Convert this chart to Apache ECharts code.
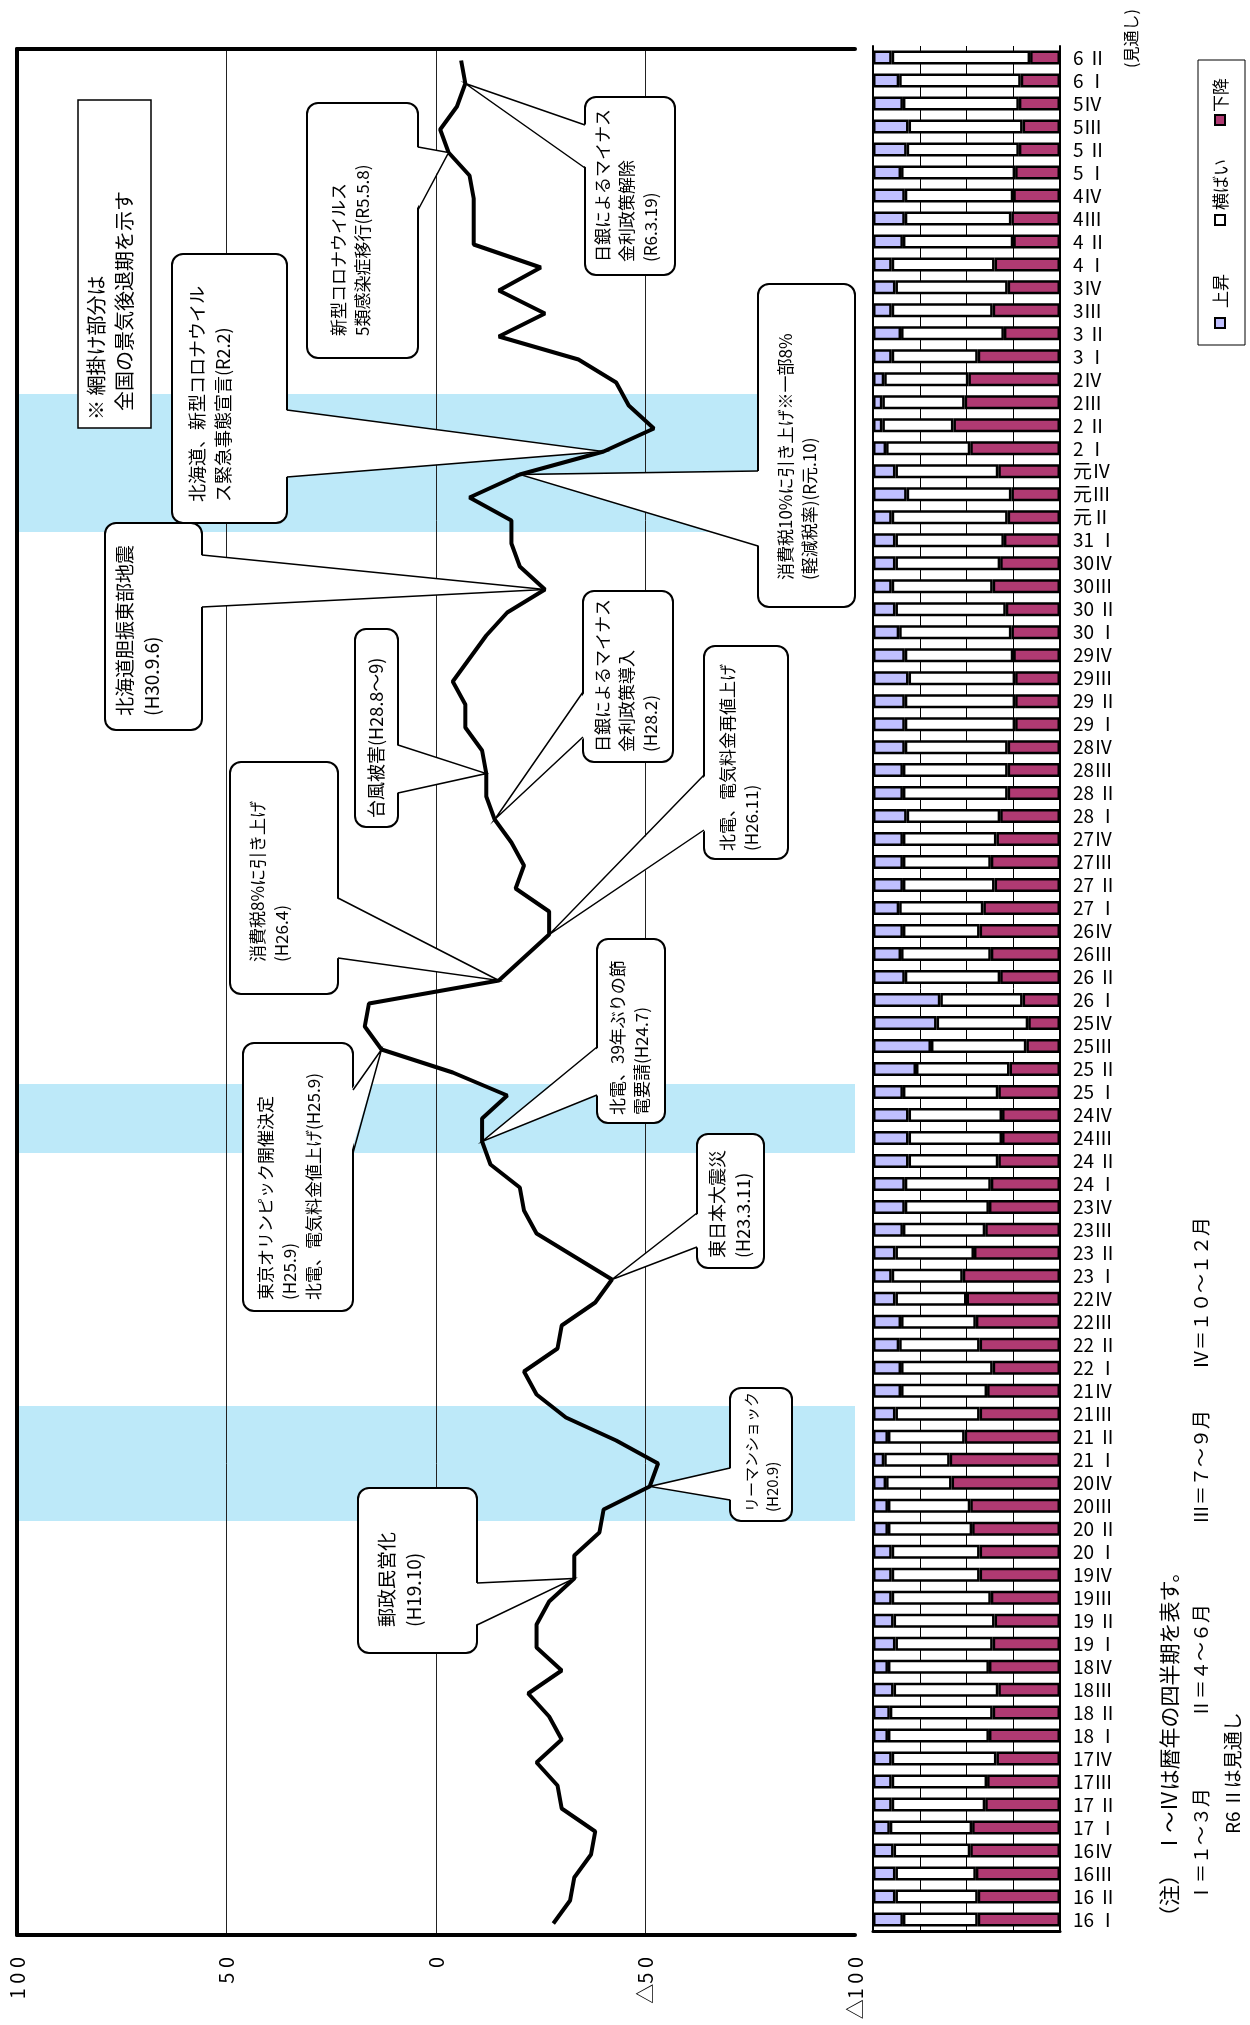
<!DOCTYPE html>
<html>
<head>
<meta charset="utf-8">
<script src="https://cdn.jsdelivr.net/npm/echarts@6/dist/echarts.min.js"></script>
<style>
  html, body { margin: 0; padding: 0; background: #fff; }
  #chart { width: 1250px; height: 2025px; }
</style>
</head>
<body>
<div id="chart"></div>
<script>
// 四半期（平成16年Ⅰ期 〜 令和6年Ⅱ期）
var quarters = [
  '16 Ⅰ','16 Ⅱ','16Ⅲ','16Ⅳ','17 Ⅰ','17 Ⅱ','17Ⅲ','17Ⅳ','18 Ⅰ','18 Ⅱ','18Ⅲ','18Ⅳ',
  '19 Ⅰ','19 Ⅱ','19Ⅲ','19Ⅳ','20 Ⅰ','20 Ⅱ','20Ⅲ','20Ⅳ','21 Ⅰ','21 Ⅱ','21Ⅲ','21Ⅳ',
  '22 Ⅰ','22 Ⅱ','22Ⅲ','22Ⅳ','23 Ⅰ','23 Ⅱ','23Ⅲ','23Ⅳ','24 Ⅰ','24 Ⅱ','24Ⅲ','24Ⅳ',
  '25 Ⅰ','25 Ⅱ','25Ⅲ','25Ⅳ','26 Ⅰ','26 Ⅱ','26Ⅲ','26Ⅳ','27 Ⅰ','27 Ⅱ','27Ⅲ','27Ⅳ',
  '28 Ⅰ','28 Ⅱ','28Ⅲ','28Ⅳ','29 Ⅰ','29 Ⅱ','29Ⅲ','29Ⅳ','30 Ⅰ','30 Ⅱ','30Ⅲ','30Ⅳ',
  '31 Ⅰ','元Ⅱ','元Ⅲ','元Ⅳ','2 Ⅰ','2 Ⅱ','2Ⅲ','2Ⅳ','3 Ⅰ','3 Ⅱ','3Ⅲ','3Ⅳ',
  '4 Ⅰ','4 Ⅱ','4Ⅲ','4Ⅳ','5 Ⅰ','5 Ⅱ','5Ⅲ','5Ⅳ','6 Ⅰ','6 Ⅱ'
];

// 構成比（%）
var upShare = [
  16,12,12,11, 9,10,10,10, 8, 9,11, 8,
  12,11,10,10,10, 8, 8, 7, 6, 8,12,15,
  15,14,15,12,10,12,16,17,17,19,19,19,
  16,23,31,34,36,17,15,16,14,16,16,16,
  18,16,16,17,17,17,19,17,14,12,10,12,
  12,10,18,12, 7, 5, 5, 6,10,15,10,12,
  10,16,17,17,15,18,19,16,14,10
];
var flatShare = [
  40,44,43,41,44,50,51,56,54,55,56,54,
  52,54,53,47,47,45,44,35,35,41,45,46,
  49,43,40,38,38,42,44,45,46,48,50,50,
  51,50,51,49,44,51,48,41,45,49,47,50,
  50,56,56,55,59,59,57,58,60,59,54,56,
  58,62,56,55,45,38,44,45,46,55,54,60,
  55,59,57,58,61,60,61,62,65,74
];
var downShare = [
  44,44,45,48,47,40,39,34,38,36,33,38,
  36,35,37,43,43,47,48,58,59,51,43,39,
  36,43,45,50,52,46,40,38,37,33,31,31,
  33,27,18,17,20,32,37,43,41,35,37,34,
  32,28,28,28,24,24,24,25,26,29,36,32,
  30,28,26,33,48,57,51,49,44,30,36,28,
  35,25,26,25,24,22,20,22,21,16
];

// 景気動向DI
var diValues = [
  -28,-32,-33,-37,-38,-30,-29,-24,-30,-27,
  -22,-30,-24,-24,-27,-33,-33,-39,-40,-51,
  -53,-43,-31,-24,-21,-29,-30,-38,-42,-33,
  -24,-21,-20,-13,-11,-11,-17,-4,13,17,
  16,-15,-21,-27,-27,-19,-21,-18,-14,-12,
  -12,-11,-7,-7,-4,-8,-12,-17,-26,-20,
  -18,-18,-8,-20,-40,-52,-46,-43,-34,-15,
  -26,-15,-25,-9,-9,-9,-8,-3,-1,-5,
  -7,-6
];

// 全国の景気後退期（網掛け）
var recessions = [['20Ⅲ', '21Ⅲ'], ['24Ⅲ', '25 Ⅰ'], ['元Ⅱ', '2Ⅲ']];

var valueLabels = { '100': '1 0 0', '50': '5 0', '0': '0', '-50': '△5 0', '-100': '△1 0 0' };

// 吹き出し（配置はピクセル、指し示す点は四半期で指定）
var callouts = [
  { box: [172, 254, 287, 523], lines: ['北海道、新型コロナウイル', 'ス緊急事態宣言(R2.2)'], tx: 210, ty: 502, fs: 18, base: [[287, 410], [287, 477]], at: '2 Ⅰ' },
  { box: [105, 523, 202, 730], lines: ['北海道胆振東部地震', '(H30.9.6)'], tx: 138, ty: 716, fs: 19, base: [[202, 555], [202, 607]], at: '30Ⅲ' },
  { box: [307, 103, 418, 358], lines: ['新型コロナウイルス', '5類感染症移行(R5.5.8)'], tx: 351, ty: 336, fs: 17, base: [[418, 147], [418, 210]], at: '5 Ⅱ' },
  { box: [585, 97, 675, 275], lines: ['日銀によるマイナス', '金利政策解除', '(R6.3.19)'], tx: 627, ty: 262, fs: 17, base: [[585, 125], [585, 168]], at: '6 Ⅰ' },
  { box: [758, 284, 855, 607], lines: ['消費税10%に引き上げ※一部8%', '(軽減税率)(R元.10)'], tx: 798, ty: 580, fs: 17, base: [[758, 471], [758, 546]], at: '元Ⅳ' },
  { box: [355, 629, 398, 827], lines: ['台風被害(H28.8～9)'], tx: 376, ty: 818, fs: 18, base: [[398, 745], [398, 793]], at: '28Ⅲ' },
  { box: [583, 591, 673, 762], lines: ['日銀によるマイナス', '金利政策導入', '(H28.2)'], tx: 627, ty: 752, fs: 17, base: [[583, 692], [583, 737]], at: '28 Ⅰ' },
  { box: [704, 646, 788, 859], lines: ['北電、電気料金再値上げ', '(H26.11)'], tx: 740, ty: 851, fs: 17, base: [[704, 775], [704, 830]], at: '26Ⅳ' },
  { box: [230, 762, 338, 994], lines: ['消費税8%に引き上げ', '(H26.4)'], tx: 270, ty: 962, fs: 17, base: [[338, 898], [338, 958]], at: '26 Ⅱ' },
  { box: [243, 1043, 353, 1311], lines: ['東京オリンピック開催決定', '(H25.9)', '北電、電気料金値上げ(H25.9)'], tx: 290, ty: 1300, fs: 17, base: [[353, 1090], [353, 1153]], at: '25Ⅲ' },
  { box: [597, 939, 665, 1123], lines: ['北電、39年ぶりの節', '電要請(H24.7)'], tx: 630, ty: 1115, fs: 17, base: [[597, 1047], [597, 1095]], at: '24Ⅲ' },
  { box: [697, 1134, 764, 1268], lines: ['東日本大震災', '(H23.3.11)'], tx: 730, ty: 1258, fs: 18, base: [[697, 1213], [697, 1247]], at: '23 Ⅰ' },
  { box: [730, 1388, 792, 1521], lines: ['リーマンショック', '(H20.9)'], tx: 762, ty: 1512, fs: 15, base: [[730, 1468], [730, 1500]], at: '20Ⅳ' },
  { box: [358, 1488, 477, 1653], lines: ['郵政民営化', '(H19.10)'], tx: 400, ty: 1627, fs: 19, base: [[477, 1583], [477, 1625]], at: '19Ⅳ' }
];

var FONT = '"Noto Sans CJK JP", "Noto Sans CJK SC", sans-serif';
var UP_COLOR = '#c0c0ff';
var FLAT_COLOR = '#ffffff';
var DOWN_COLOR = '#b03a72';
var BAND_COLOR = '#bde9f9';

var chart = echarts.init(document.getElementById('chart'));

function qIndex(label) {
  return quarters.indexOf(label);
}

var linePoints = diValues.map(function (v, i) { return [v, i]; });
var bandData = recessions.map(function (r) {
  return [{ yAxis: qIndex(r[0]) - 0.5 }, { yAxis: qIndex(r[1]) + 0.5 }];
});

var barStyle = function (color) {
  return { color: color, borderColor: '#000', borderWidth: 2.5 };
};

var option = {
  animation: false,
  backgroundColor: '#fff',
  grid: [
    { left: 17, right: 395, top: 49, bottom: 90, outerBoundsMode: 'none' },
    { left: 873, right: 190, top: 46, bottom: 94, outerBoundsMode: 'none' }
  ],
  xAxis: [
    {
      gridIndex: 0, type: 'value', min: -100, max: 100, interval: 50, inverse: true, z: 3,
      axisLine: { show: true, onZero: false, lineStyle: { color: '#000', width: 4 } },
      axisTick: { show: false },
      axisLabel: {
        rotate: 90, margin: 22, fontSize: 20, color: '#000', fontFamily: FONT,
        formatter: function (v) { return valueLabels[String(v)]; }
      },
      splitLine: { show: true, showMinLine: false, showMaxLine: false, lineStyle: { color: '#222', width: 1 } }
    },
    {
      gridIndex: 0, type: 'value', min: -100, max: 100, inverse: true, position: 'top', z: 3,
      axisLine: { show: true, onZero: false, lineStyle: { color: '#000', width: 4 } },
      axisTick: { show: false }, axisLabel: { show: false }, splitLine: { show: false }
    },
    {
      gridIndex: 1, type: 'value', min: 0, max: 100, interval: 25, z: 0,
      axisLine: { show: true, onZero: false, lineStyle: { color: '#000', width: 3 } },
      axisTick: { show: false }, axisLabel: { show: false },
      splitLine: { show: true, showMinLine: false, showMaxLine: false, lineStyle: { color: '#000', width: 1 } }
    }
  ],
  yAxis: [
    {
      gridIndex: 0, type: 'value', min: -0.5, max: 81.5, position: 'left', z: 3,
      axisLine: { show: true, onZero: false, lineStyle: { color: '#000', width: 4 } },
      axisTick: { show: false }, axisLabel: { show: false }, splitLine: { show: false }
    },
    {
      gridIndex: 1, type: 'category', data: quarters, position: 'left', z: 4,
      axisLine: { show: true, onZero: false, lineStyle: { color: '#000', width: 2 } },
      axisTick: { show: false }, axisLabel: { show: false }, splitLine: { show: false }
    },
    {
      gridIndex: 1, type: 'category', data: quarters, position: 'right', z: 4,
      axisLine: { show: true, onZero: false, lineStyle: { color: '#000', width: 2 } },
      axisTick: { show: false }, splitLine: { show: false },
      axisLabel: { interval: 0, margin: 13, fontSize: 19, color: '#000', fontFamily: FONT, align: 'left' }
    }
  ],
  series: [
    {
      name: 'band', type: 'line', xAxisIndex: 0, yAxisIndex: 0, z: 1, silent: true,
      data: linePoints, symbol: 'none', lineStyle: { opacity: 0 },
      markArea: { silent: true, itemStyle: { color: BAND_COLOR }, data: bandData }
    },
    {
      name: 'DI', type: 'line', xAxisIndex: 0, yAxisIndex: 0, z: 5,
      data: linePoints, symbol: 'none',
      lineStyle: { color: '#000', width: 4 }
    },
    { name: '上昇', type: 'bar', stack: 'q', xAxisIndex: 2, yAxisIndex: 1, z: 3, barWidth: 14, data: upShare, itemStyle: barStyle(UP_COLOR) },
    { name: '横ばい', type: 'bar', stack: 'q', xAxisIndex: 2, yAxisIndex: 1, z: 3, barWidth: 14, data: flatShare, itemStyle: barStyle(FLAT_COLOR) },
    { name: '下降', type: 'bar', stack: 'q', xAxisIndex: 2, yAxisIndex: 1, z: 3, barWidth: 14, data: downShare, itemStyle: barStyle(DOWN_COLOR) }
  ]
};

chart.setOption(option);

// 左に90度回転したテキスト
function vtext(x, y, text, size, lh, z) {
  return {
    type: 'text', x: x, y: y, rotation: Math.PI / 2, z: z || 104,
    style: {
      text: text, fontSize: size, fontFamily: FONT, fill: '#000',
      align: 'left', verticalAlign: 'middle', textAlign: 'left', textVerticalAlign: 'middle',
      lineHeight: lh || Math.round(size * 1.4)
    }
  };
}

var graphics = [];

// 網掛けの説明
graphics.push({
  type: 'rect', z: 100,
  shape: { x: 78, y: 100, width: 73, height: 328 },
  style: { fill: '#fff', stroke: '#000', lineWidth: 1.5 }
});
graphics.push(vtext(110, 420, '※ 網掛け部分は\n  全国の景気後退期を示す', 20, 28));

callouts.forEach(function (c) {
  var i = qIndex(c.at);
  var tip = chart.convertToPixel({ seriesIndex: 1 }, [diValues[i], i]);
  var b = c.box;
  var inset = c.base[0][0] === b[2] ? -2 : 2;
  var p1 = [c.base[0][0] + inset, c.base[0][1]];
  var p2 = [c.base[1][0] + inset, c.base[1][1]];
  graphics.push({
    type: 'rect', z: 100,
    shape: { x: b[0], y: b[1], width: b[2] - b[0], height: b[3] - b[1], r: 11 },
    style: { fill: '#fff', stroke: '#000', lineWidth: 2 }
  });
  graphics.push({
    type: 'polygon', z: 101,
    shape: { points: [p1, tip, p2] },
    style: { fill: '#fff', stroke: null }
  });
  graphics.push({
    type: 'polyline', z: 102,
    shape: { points: [c.base[0], tip, c.base[1]] },
    style: { fill: null, stroke: '#000', lineWidth: 1.5 }
  });
  graphics.push(vtext(c.tx, c.ty, c.lines.join('\n'), c.fs, Math.round(c.fs * 1.42)));
});

// 凡例
var legendItems = [
  { name: '上昇', color: UP_COLOR, iy: 323, ty: 308 },
  { name: '横ばい', color: FLAT_COLOR, iy: 220, ty: 210 },
  { name: '下降', color: DOWN_COLOR, iy: 120, ty: 112 }
];
graphics.push({
  type: 'rect', z: 100,
  shape: { x: 1198, y: 60, width: 47, height: 285 },
  style: { fill: '#fff', stroke: '#000', lineWidth: 1 }
});
legendItems.forEach(function (it) {
  graphics.push({
    type: 'rect', z: 101,
    shape: { x: 1215, y: it.iy - 5, width: 10, height: 10 },
    style: { fill: it.color, stroke: '#000', lineWidth: 2 }
  });
  graphics.push(vtext(1221, it.ty, it.name, 17));
});
graphics.push(vtext(1131, 68, '(見通し)', 16));

// 注記
graphics.push(vtext(1169, 1927, '（注）　Ⅰ～Ⅳは暦年の四半期を表す。', 21));
graphics.push(vtext(1201, 1902, 'Ⅰ＝１～３月', 19));
graphics.push(vtext(1201, 1718, 'Ⅱ＝４～６月', 19));
graphics.push(vtext(1201, 1524, 'Ⅲ＝７～９月', 19));
graphics.push(vtext(1201, 1369, 'Ⅳ＝１０～１２月', 19));
graphics.push(vtext(1233, 1834, 'R6 Ⅱは見通し', 19));

chart.setOption({ graphic: graphics });
</script>
</body>
</html>
